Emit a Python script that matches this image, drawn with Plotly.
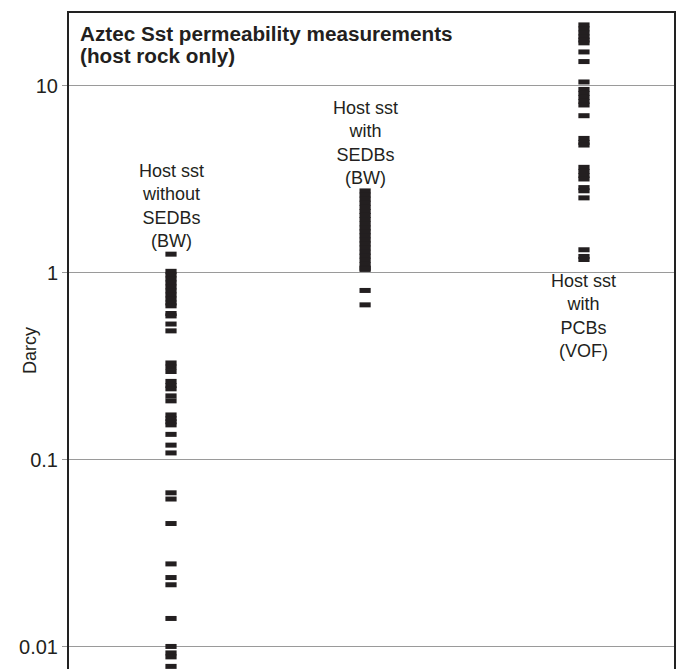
import numpy as np
import plotly.graph_objects as go

# Permeability values (Darcy)
host_without_sedbs = [1.26, 1.02, 0.976, 0.929, 0.885, 0.842, 0.802, 0.763, 0.726, 0.691, 0.667,
                      0.607, 0.589, 0.533, 0.490,
                      0.330, 0.314, 0.297, 0.263, 0.250, 0.240, 0.220, 0.207,
                      0.174, 0.166, 0.160, 0.154, 0.137, 0.120, 0.109,
                      0.0667, 0.0618, 0.0457, 0.0278, 0.0235, 0.0215, 0.0142,
                      0.01006, 0.00929, 0.00885, 0.00787]
host_with_sedbs = [2.745, 2.61, 2.48, 2.36, 2.24, 2.13, 2.03, 1.93, 1.83, 1.74, 1.66, 1.58, 1.50,
                   1.43, 1.36, 1.29, 1.23, 1.17, 1.11, 1.06, 1.044,
                   0.806, 0.675]
host_with_pcbs = [21.2, 20.2, 19.2, 18.3, 17.6, 17.0, 15.2, 13.5, 10.5,
                  9.58, 9.12, 8.68, 8.26, 7.91, 6.93,
                  5.24, 4.99, 4.83, 3.67, 3.49, 3.32, 3.18, 2.86, 2.75, 2.52,
                  1.33, 1.225, 1.18]

groups = [host_without_sedbs, host_with_sedbs, host_with_pcbs]
group_x = [1, 1.94, 3]
group_labels = ["Host sst<br>without<br>SEDBs<br>(BW)",
                "Host sst<br>with<br>SEDBs<br>(BW)",
                "Host sst<br>with<br>PCBs<br>(VOF)"]
label_above = [True, True, False]

tick_vals = [0.01, 0.1, 1, 10]
tick_text = ["0.01", "0.1", "1", "10"]

title_lines = ["Aztec Sst permeability measurements", "(host rock only)"]
y_title = "Darcy"

INK = "#231f20"
FONT = "Liberation Sans, Arial, Helvetica, sans-serif"

fig = go.Figure()
for gx, vals in zip(group_x, groups):
    fig.add_trace(go.Scatter(
        x=[gx] * len(vals), y=vals, mode="markers",
        marker=dict(symbol="line-ew", size=8, line=dict(width=5, color=INK), color=INK),
        showlegend=False, hoverinfo="y"))

for gx, vals, lab, above in zip(group_x, groups, group_labels, label_above):
    if above:
        fig.add_annotation(x=gx, y=np.log10(max(vals)), text=lab, showarrow=False,
                           xref="x", yref="y", yanchor="bottom", yshift=1,
                           font=dict(family=FONT, size=18, color=INK), align="center")
    else:
        fig.add_annotation(x=gx, y=np.log10(min(vals)), text=lab, showarrow=False,
                           xref="x", yref="y", yanchor="top", yshift=-10,
                           font=dict(family=FONT, size=18, color=INK), align="center")

for i, line in enumerate(title_lines):
    fig.add_annotation(x=0, y=1, xref="paper", yref="paper", xanchor="left", yanchor="top",
                       xshift=10, yshift=-8 - 22 * i, text="<b>" + line + "</b>",
                       showarrow=False, align="left", borderpad=0,
                       font=dict(family=FONT, size=20.7, color=INK))

fig.add_annotation(x=0, y=0.5, xref="paper", yref="paper", xanchor="center", yanchor="middle",
                   xshift=-39, yshift=-10, text=y_title, textangle=-90, showarrow=False,
                   font=dict(family=FONT, size=18, color=INK))

fig.update_layout(
    width=676, height=669,
    margin=dict(l=69, r=2, t=13, b=0),
    paper_bgcolor="white", plot_bgcolor="white",
    font=dict(family=FONT, color=INK),
    xaxis=dict(range=[0.506, 3.436], showgrid=False, zeroline=False, showticklabels=False,
               ticks="", side="top", showline=True, linecolor="#222", linewidth=2, mirror=False),
    yaxis=dict(type="log", range=[-2.118, 1.390], tickvals=tick_vals, ticktext=tick_text,
               showgrid=True, gridcolor="#9a9a9a", gridwidth=1.2, zeroline=False,
               ticks="outside", ticklen=5, tickcolor="#9a9a9a", tickwidth=1.2,
               ticklabelstandoff=0,
               tickfont=dict(family=FONT, size=20, color=INK),
               showline=True, linecolor="#222", linewidth=2, mirror=True),
)

fig.write_html("out.html")
